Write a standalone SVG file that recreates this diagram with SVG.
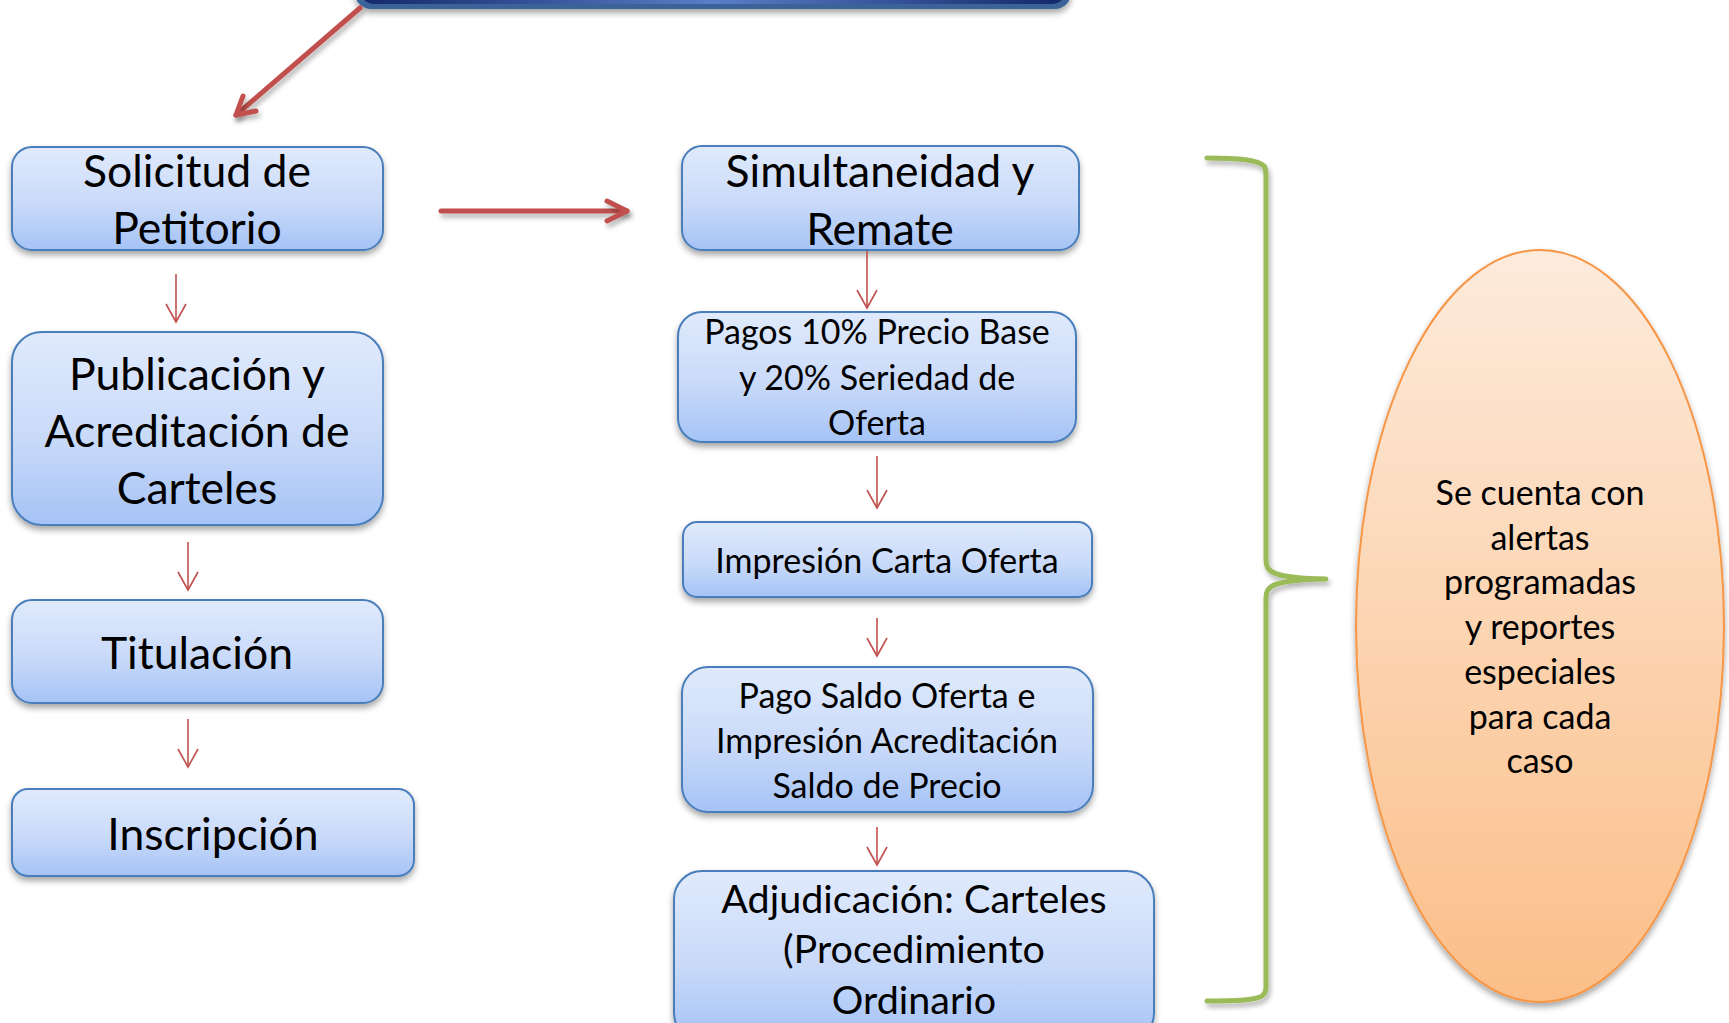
<svg xmlns="http://www.w3.org/2000/svg" width="1729" height="1023" viewBox="0 0 1729 1023">
  <defs>
    <linearGradient id="boxGrad" x1="0" y1="0" x2="0" y2="1">
      <stop offset="0" stop-color="#E0EAFC"/>
      <stop offset="0.55" stop-color="#C9DAF9"/>
      <stop offset="1" stop-color="#A5C3F6"/>
    </linearGradient>
    <linearGradient id="barGrad" x1="0" y1="0" x2="1" y2="0">
      <stop offset="0" stop-color="#13286A"/>
      <stop offset="0.5" stop-color="#5A7EC8"/>
      <stop offset="1" stop-color="#13286A"/>
    </linearGradient>
    <linearGradient id="ovalGrad" x1="0" y1="0" x2="0" y2="1">
      <stop offset="0" stop-color="#FDEBDC"/>
      <stop offset="1" stop-color="#FBBE88"/>
    </linearGradient>
    <filter id="shadow" x="-10%" y="-10%" width="120%" height="130%">
      <feDropShadow dx="0" dy="4" stdDeviation="3" flood-color="#000" flood-opacity="0.35"/>
    </filter>
    <filter id="lshadow" filterUnits="userSpaceOnUse" x="0" y="0" width="1729" height="1023">
      <feDropShadow dx="2" dy="4" stdDeviation="2.5" flood-color="#000" flood-opacity="0.3"/>
    </filter>
    <marker id="thinHead" viewBox="0 0 22 24" refX="20" refY="12" markerWidth="22" markerHeight="24" markerUnits="userSpaceOnUse" orient="auto">
      <path d="M2,2 L20,12 L2,22" fill="none" stroke="#C0504D" stroke-width="1.6"/>
    </marker>
  </defs>
  <style>
    .box { fill: url(#boxGrad); stroke: #4A7EBB; stroke-width: 2; filter: url(#shadow); }
    .t { font-family: Lato, "Open Sans", "DejaVu Sans", sans-serif; fill: #000; text-anchor: middle; }
    .big { font-size: 44.5px; }
    .mid { font-size: 34px; }
    .adj { font-size: 39.5px; }
    .ov { font-size: 34px; }
    .thin { stroke: #C0504D; stroke-width: 1.6; fill: none; }
    .thick { stroke: #C0504D; stroke-width: 5; fill: none; stroke-linecap: round; stroke-linejoin: round; filter: url(#lshadow); }
  </style>

  <rect width="1729" height="1023" fill="#FFFFFF"/>

  <g id="top-bar">
    <rect x="355" y="-60" width="716" height="69" rx="16" fill="#3A6498" filter="url(#shadow)"/>
    <rect x="360" y="-60" width="706" height="64" rx="14" fill="url(#barGrad)"/>
  </g>

  <g id="solicitud">
    <rect class="box" x="12" y="147" width="371" height="103" rx="20"/>
    <text class="t big" x="197" y="187">Solicitud de</text>
    <text class="t big" x="197" y="244">Petitorio</text>
  </g>

  <g id="publicacion">
    <rect class="box" x="12" y="332" width="371" height="193" rx="30"/>
    <text class="t big" x="197" y="390">Publicación y</text>
    <text class="t big" x="197" y="447">Acreditación de</text>
    <text class="t big" x="197" y="504">Carteles</text>
  </g>

  <g id="titulacion">
    <rect class="box" x="12" y="600" width="371" height="103" rx="20"/>
    <text class="t big" x="197" y="669">Titulación</text>
  </g>

  <g id="inscripcion">
    <rect class="box" x="12" y="789" width="402" height="87" rx="16"/>
    <text class="t big" x="213" y="850">Inscripción</text>
  </g>

  <g id="simultaneidad">
    <rect class="box" x="682" y="146" width="397" height="104" rx="20"/>
    <text class="t big" x="880" y="187">Simultaneidad y</text>
    <text class="t big" x="880" y="245">Remate</text>
  </g>

  <g id="pagos">
    <rect class="box" x="678" y="312" width="398" height="130" rx="24"/>
    <text class="t mid" x="877" y="344">Pagos 10% Precio Base</text>
    <text class="t mid" x="877" y="390">y 20% Seriedad de</text>
    <text class="t mid" x="877" y="435">Oferta</text>
  </g>

  <g id="impresion-carta">
    <rect class="box" x="683" y="522" width="409" height="75" rx="14"/>
    <text class="t mid" x="887" y="573">Impresión Carta Oferta</text>
  </g>

  <g id="pago-saldo">
    <rect class="box" x="682" y="667" width="411" height="145" rx="26"/>
    <text class="t mid" x="887" y="708">Pago Saldo Oferta e</text>
    <text class="t mid" x="887" y="753">Impresión Acreditación</text>
    <text class="t mid" x="887" y="798">Saldo de Precio</text>
  </g>

  <g id="adjudicacion">
    <rect class="box" x="674" y="871" width="480" height="170" rx="28"/>
    <text class="t adj" x="914" y="913">Adjudicación: Carteles</text>
    <text class="t adj" x="914" y="963">(Procedimiento</text>
    <text class="t adj" x="914" y="1014">Ordinario</text>
  </g>

  <g id="alertas">
    <ellipse cx="1540" cy="626" rx="184" ry="376" fill="url(#ovalGrad)" stroke="#F79646" stroke-width="2" filter="url(#shadow)"/>
    <text class="t ov" x="1540" y="505">Se cuenta con</text>
    <text class="t ov" x="1540" y="550">alertas</text>
    <text class="t ov" x="1540" y="594">programadas</text>
    <text class="t ov" x="1540" y="639">y reportes</text>
    <text class="t ov" x="1540" y="684">especiales</text>
    <text class="t ov" x="1540" y="729">para cada</text>
    <text class="t ov" x="1540" y="773">caso</text>
  </g>

  <g id="brace">
    <path d="M1207,158 C1240,158 1258,160 1264,166 C1266,169 1266,172 1266,176 L1266,560 C1266,572 1272,578 1326,579 C1272,580 1266,586 1266,598 L1266,985 C1266,990 1266,993 1262,996 C1256,1000 1240,1001 1207,1001" fill="none" stroke="#9BBB59" stroke-width="5" stroke-linecap="round" stroke-linejoin="round" filter="url(#lshadow)"/>
  </g>

  <g id="connectors">
    <path class="thick" d="M360,8 L236,115"/>
    <path class="thick" d="M243,96 L236,115 L256,111"/>
    <path class="thick" d="M441,211 L627,211"/>
    <path class="thick" d="M607,201 L627,211 L607,221"/>
    <line class="thin" x1="176" y1="274" x2="176" y2="322" marker-end="url(#thinHead)"/>
    <line class="thin" x1="188" y1="542" x2="188" y2="590" marker-end="url(#thinHead)"/>
    <line class="thin" x1="188" y1="719" x2="188" y2="767" marker-end="url(#thinHead)"/>
    <line class="thin" x1="867" y1="251" x2="867" y2="308" marker-end="url(#thinHead)"/>
    <line class="thin" x1="877" y1="456" x2="877" y2="508" marker-end="url(#thinHead)"/>
    <line class="thin" x1="877" y1="618" x2="877" y2="656" marker-end="url(#thinHead)"/>
    <line class="thin" x1="877" y1="827" x2="877" y2="865" marker-end="url(#thinHead)"/>
  </g>
</svg>
